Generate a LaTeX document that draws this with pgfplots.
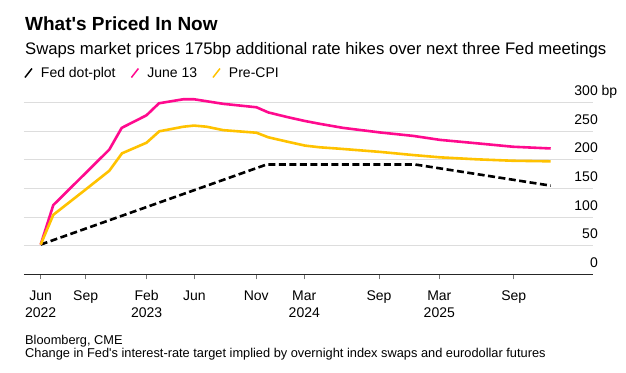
\documentclass[border=0pt]{standalone}
\usepackage{pgfplots}
\pgfplotsset{compat=1.18}
\usepackage{fontspec}
\setmainfont{Liberation Sans}
\definecolor{bpink}{HTML}{FF0A8E}
\definecolor{byellow}{HTML}{FFC200}
\definecolor{gridgray}{HTML}{DDDDDD}
\begin{document}
\begin{tikzpicture}
\path[use as bounding box] (-24pt,-97.7pt) rectangle (602pt,274.3pt);
\begin{axis}[
  at={(0pt,0pt)}, anchor=south west,
  scale only axis, width=569pt, height=171.6pt,
  xmin=24, xmax=593, ymin=0, ymax=300,
  axis x line*=bottom, axis y line*=right,
  x axis line style={-, draw=black!85, line width=1.2pt},
  y axis line style={draw=none},
  ytick={0,50,...,300}, yticklabels={0,50,100,150,200,250,{300\rlap{\ bp}}},
  ymajorgrids, grid style={draw=gridgray, line width=1pt},
  ytick style={draw=none},
  xtick={40.7,85.7,146.7,194.3,256.3,304.3,379,439.3,513.7},
  xticklabels={Jun\\2022,Sep,Feb\\2023,Jun,Nov,Mar\\2024,Sep,Mar\\2025,Sep},
  tick align=outside, major tick length=5pt,
  xtick style={draw=black!55, line width=1pt},
  xticklabel style={align=center, anchor=north, inner sep=0pt, yshift=-11pt, font=\fontsize{14}{17}\selectfont},
  yticklabel style={anchor=base east, inner sep=0pt, yshift=7pt, font=\fontsize{14}{16}\selectfont},
  /pgf/number format/assume math mode=true,
  clip=false,
  legend columns=3,
  legend style={at={(0,1.173)}, anchor=west, draw=none, fill=none, inner sep=0pt, font=\fontsize{14}{16}\selectfont, /tikz/every even column/.append style={column sep=13pt}},
  legend image code/.code={\path[draw=none,fill=none] (0pt,0pt) rectangle (14pt,0.1pt);\draw[#1,solid,line width=1.5pt] (0pt,-4.5pt) -- (7pt,4.5pt);},
]
\addplot[black, line width=2.6pt, dash pattern=on 7pt off 3.5pt] coordinates {
(40.7,52) (266.7,192) (415,192) (550.7,155)};
\addlegendentry{Fed dot-plot}
\addplot[bpink, line width=2.6pt] coordinates {
(40.7,52) (53.3,121) (109.3,218) (121.7,256) (146.5,278) (159,299) (183.3,306) (194,306) (223.3,298) (256.5,292) (268.3,283) (287,275) (305,268) (320,263) (343,256) (380,248) (413,242) (440,235) (477,229) (513,223) (550.7,220)};
\addlegendentry{June 13}
\addplot[byellow, line width=2.6pt] coordinates {
(40.7,52) (53.3,104) (84,146) (109.3,181) (122,211.5) (146.5,230) (159.3,250) (183.3,258) (194,260) (206.7,258) (223.3,252) (256.5,247.5) (268.3,239.5) (287,232) (305,225) (320,222) (340,219.5) (380,214) (413,208.5) (440,204.5) (477,201) (513,198.5) (550.7,197.5)};
\addlegendentry{Pre-CPI}
\end{axis}
\node[anchor=base west, inner sep=0pt] at (1pt,243.3pt) {\fontsize{19}{22}\selectfont\bfseries What\textquotesingle s Priced In Now};
\node[anchor=base west, inner sep=0pt] at (1pt,220pt) {\fontsize{16.7}{19}\selectfont Swaps market prices 175bp additional rate hikes over next three Fed meetings};
\node[anchor=base west, inner sep=0pt] at (1pt,-69.7pt) {\fontsize{12.8}{14}\selectfont Bloomberg, CME};
\node[anchor=base west, inner sep=0pt] at (1pt,-83.3pt) {\fontsize{12.8}{14}\selectfont Change in Fed\textquotesingle s interest-rate target implied by overnight index swaps and eurodollar futures};
\end{tikzpicture}
\end{document}
